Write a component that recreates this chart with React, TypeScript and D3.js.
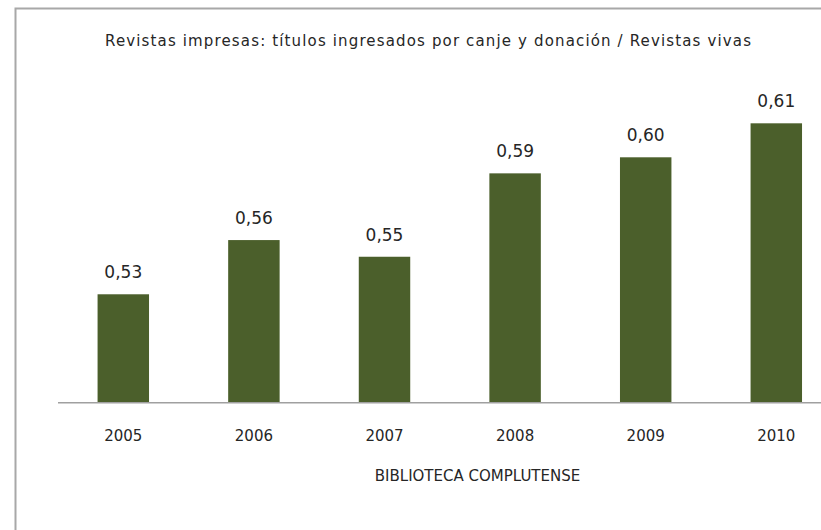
import React, { useEffect } from "react";
import * as d3 from "d3";

const years = ["2005", "2006", "2007", "2008", "2009", "2010"];
const ratios = [0.532, 0.558, 0.55, 0.59, 0.5977, 0.614];
const chartTitle = "Revistas impresas: títulos ingresados por canje y donación / Revistas vivas";
const axisTitle = "BIBLIOTECA COMPLUTENSE";

const W = 821;
const H = 530;
const FONT = "'DejaVu Sans', 'Liberation Sans', sans-serif";

export default function App() {
  useEffect(() => {
    document.body.style.margin = "0";
    document.body.style.overflow = "hidden";
  }, []);

  const x = d3
    .scaleBand<string>()
    .domain(years)
    .range([58, 841.6])
    .paddingInner(0.606)
    .paddingOuter(0.303);
  const y = d3.scaleLinear().domain([0.48, 0.62]).range([402.7, 110.8]);
  const fmt = (v: number) => d3.format(".2f")(v).replace(".", ",");
  const bw = x.bandwidth();

  return (
    <svg
      width={W}
      height={H}
      style={{ position: "absolute", left: 0, top: 0, display: "block", overflow: "hidden" }}
    >
      <rect x={0} y={0} width={W} height={H} fill="#fff" />
      <path
        d={`M15.5,${H} V8.5 H${W}`}
        fill="none"
        stroke="#a8a8a8"
        strokeWidth={2}
      />
      <text
        x={428}
        y={46}
        textAnchor="middle"
        fontFamily={FONT}
        fontSize={15}
        fill="#262626"
        textLength={646}
        lengthAdjust="spacing"
      >
        {chartTitle}
      </text>
      {years.map((yr, i) => (
        <g key={yr}>
          <rect
            x={x(yr)!}
            y={y(ratios[i])}
            width={bw}
            height={y(0.48) - y(ratios[i])}
            fill="#4b5f2b"
          />
          <text
            x={x(yr)! + bw / 2}
            y={y(ratios[i]) - 16}
            textAnchor="middle"
            fontFamily={FONT}
            fontSize={17}
            fill="#262626"
          >
            {fmt(ratios[i])}
          </text>
          <text
            x={x(yr)! + bw / 2}
            y={441}
            textAnchor="middle"
            fontFamily={FONT}
            fontSize={15}
            fill="#262626"
          >
            {yr}
          </text>
        </g>
      ))}
      <line
        x1={58}
        x2={841.6}
        y1={y(0.48)}
        y2={y(0.48)}
        stroke="#a0a0a0"
        strokeWidth={1.5}
      />
      <text
        x={477.5}
        y={481}
        textAnchor="middle"
        fontFamily={FONT}
        fontSize={15}
        fill="#262626"
      >
        {axisTitle}
      </text>
    </svg>
  );
}
